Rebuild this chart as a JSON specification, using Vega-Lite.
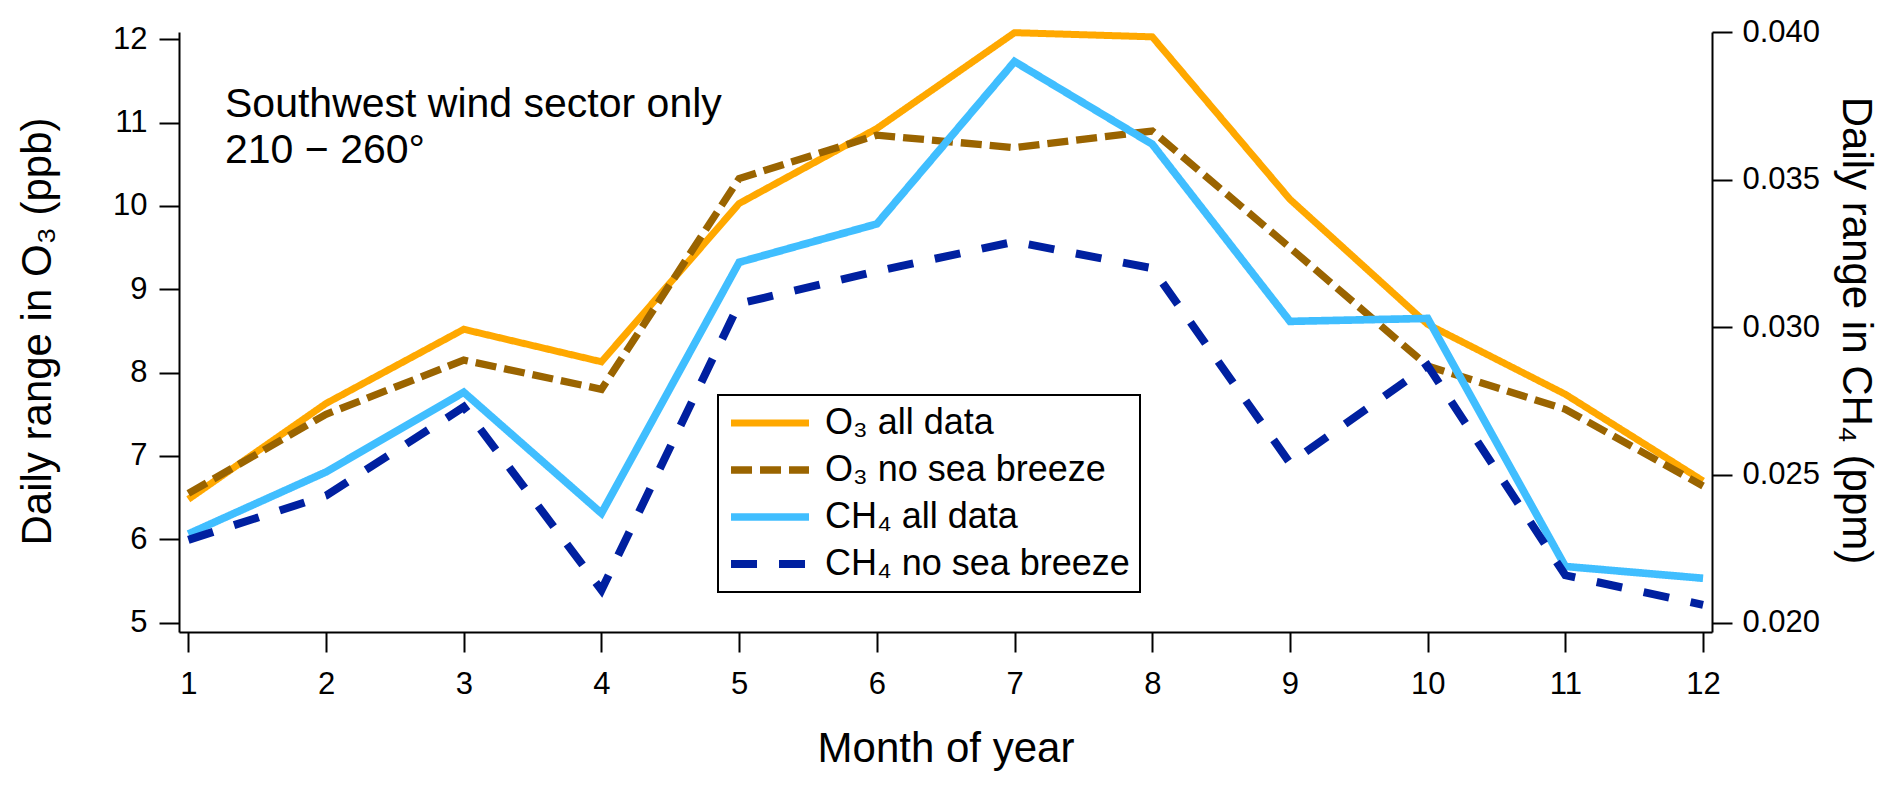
{
  "$schema": "https://vega.github.io/schema/vega-lite/v6.json",
  "width": 1533,
  "height": 600,
  "autosize": {"type": "none"},
  "padding": {"left": 179, "top": 32, "right": 180, "bottom": 157},
  "background": "white",
  "config": {
    "view": {"stroke": null},
    "font": "Liberation Sans",
    "axis": {
      "domainColor": "black",
      "domainWidth": 2,
      "tickColor": "black",
      "tickWidth": 2,
      "tickSize": 20,
      "labelColor": "black",
      "labelFont": "Liberation Sans",
      "labelFontSize": 31,
      "titleColor": "black",
      "titleFont": "Liberation Sans",
      "titleFontSize": 42,
      "titleFontWeight": "normal",
      "grid": false
    }
  },
  "title": {
    "text": ["Southwest wind sector only", "210 − 260°"],
    "anchor": "start",
    "frame": "group",
    "orient": "top",
    "offset": 0,
    "dx": 46,
    "dy": 156,
    "baseline": "top",
    "lineHeight": 46,
    "font": "Liberation Sans",
    "fontSize": 41,
    "fontWeight": "normal",
    "color": "black"
  },
  "datasets": {
    "o3": [
      {"month": 1, "series": "O₃ all data", "value": 6.48},
      {"month": 2, "series": "O₃ all data", "value": 7.63},
      {"month": 3, "series": "O₃ all data", "value": 8.52},
      {"month": 4, "series": "O₃ all data", "value": 8.13},
      {"month": 5, "series": "O₃ all data", "value": 10.03},
      {"month": 6, "series": "O₃ all data", "value": 10.93},
      {"month": 7, "series": "O₃ all data", "value": 12.08},
      {"month": 8, "series": "O₃ all data", "value": 12.03},
      {"month": 9, "series": "O₃ all data", "value": 10.08},
      {"month": 10, "series": "O₃ all data", "value": 8.58},
      {"month": 11, "series": "O₃ all data", "value": 7.74},
      {"month": 12, "series": "O₃ all data", "value": 6.70},
      {"month": 1, "series": "O₃ no sea breeze", "value": 6.55},
      {"month": 2, "series": "O₃ no sea breeze", "value": 7.50},
      {"month": 3, "series": "O₃ no sea breeze", "value": 8.15},
      {"month": 4, "series": "O₃ no sea breeze", "value": 7.80},
      {"month": 5, "series": "O₃ no sea breeze", "value": 10.33},
      {"month": 6, "series": "O₃ no sea breeze", "value": 10.85},
      {"month": 7, "series": "O₃ no sea breeze", "value": 10.70},
      {"month": 8, "series": "O₃ no sea breeze", "value": 10.90},
      {"month": 9, "series": "O₃ no sea breeze", "value": 9.50},
      {"month": 10, "series": "O₃ no sea breeze", "value": 8.08},
      {"month": 11, "series": "O₃ no sea breeze", "value": 7.56},
      {"month": 12, "series": "O₃ no sea breeze", "value": 6.64}
    ],
    "ch4": [
      {"month": 1, "series": "CH₄ all data", "value": 0.0230},
      {"month": 2, "series": "CH₄ all data", "value": 0.0251},
      {"month": 3, "series": "CH₄ all data", "value": 0.0278},
      {"month": 4, "series": "CH₄ all data", "value": 0.0237},
      {"month": 5, "series": "CH₄ all data", "value": 0.0322},
      {"month": 6, "series": "CH₄ all data", "value": 0.0335},
      {"month": 7, "series": "CH₄ all data", "value": 0.0390},
      {"month": 8, "series": "CH₄ all data", "value": 0.0362},
      {"month": 9, "series": "CH₄ all data", "value": 0.0302},
      {"month": 10, "series": "CH₄ all data", "value": 0.0303},
      {"month": 11, "series": "CH₄ all data", "value": 0.0219},
      {"month": 12, "series": "CH₄ all data", "value": 0.0215},
      {"month": 1, "series": "CH₄ no sea breeze", "value": 0.0228},
      {"month": 2, "series": "CH₄ no sea breeze", "value": 0.0243},
      {"month": 3, "series": "CH₄ no sea breeze", "value": 0.0273},
      {"month": 4, "series": "CH₄ no sea breeze", "value": 0.0211},
      {"month": 5, "series": "CH₄ no sea breeze", "value": 0.0308},
      {"month": 6, "series": "CH₄ no sea breeze", "value": 0.0319},
      {"month": 7, "series": "CH₄ no sea breeze", "value": 0.0329},
      {"month": 8, "series": "CH₄ no sea breeze", "value": 0.0320},
      {"month": 9, "series": "CH₄ no sea breeze", "value": 0.0254},
      {"month": 10, "series": "CH₄ no sea breeze", "value": 0.0287},
      {"month": 11, "series": "CH₄ no sea breeze", "value": 0.0216},
      {"month": 12, "series": "CH₄ no sea breeze", "value": 0.0206}
    ]
  },
  "encoding": {
    "x": {
      "field": "month",
      "type": "quantitative",
      "scale": {"domain": [0.932, 12.065], "nice": false, "zero": false},
      "axis": {
        "values": [1, 2, 3, 4, 5, 6, 7, 8, 9, 10, 11, 12],
        "format": "d",
        "labelPadding": 17,
        "title": "Month of year",
        "titleBaseline": "alphabetic",
        "titleY": 129
      }
    },
    "color": {
      "field": "series",
      "type": "nominal",
      "scale": {
        "domain": ["O₃ all data", "O₃ no sea breeze", "CH₄ all data", "CH₄ no sea breeze"],
        "range": ["#FFA800", "#9A6400", "#40BEFF", "#0020A0"]
      },
      "legend": {
        "title": null,
        "orient": "none",
        "legendX": 539,
        "legendY": 363,
        "padding": 10,
        "fillColor": "white",
        "strokeColor": "black",
        "labelFont": "Liberation Sans",
        "labelFontSize": 36,
        "labelColor": "black",
        "labelOffset": 37,
        "labelLimit": 400,
        "symbolType": "M-4,0L4,0",
        "symbolSize": 380,
        "symbolOffset": 24,
        "rowPadding": 11,
        "encode": {"legend": {"update": {"strokeWidth": {"value": 2}}}}
      }
    },
    "strokeDash": {
      "field": "series",
      "type": "nominal",
      "scale": {
        "domain": ["O₃ all data", "O₃ no sea breeze", "CH₄ all data", "CH₄ no sea breeze"],
        "range": [[1, 0], [21, 8], [1, 0], [26, 22]]
      }
    },
    "strokeWidth": {
      "field": "series",
      "type": "nominal",
      "scale": {
        "domain": ["O₃ all data", "O₃ no sea breeze", "CH₄ all data", "CH₄ no sea breeze"],
        "range": [7, 8, 10.5, 8]
      }
    }
  },
  "layer": [
    {
      "data": {"name": "o3"},
      "mark": {"type": "line"},
      "encoding": {
        "y": {
          "field": "value",
          "type": "quantitative",
          "scale": {"domain": [4.887, 12.088], "nice": false, "zero": false},
          "axis": {
            "orient": "left",
            "values": [5, 6, 7, 8, 9, 10, 11, 12],
            "format": "d",
            "labelPadding": 12,
            "title": "Daily range in O₃ (ppb)",
            "titleAngle": 270,
            "titleBaseline": "bottom",
            "titleX": -120,
            "titleY": 299
          }
        }
      }
    },
    {
      "data": {"name": "ch4"},
      "mark": {"type": "line"},
      "encoding": {
        "y": {
          "field": "value",
          "type": "quantitative",
          "scale": {"domain": [0.01968, 0.04], "nice": false, "zero": false},
          "axis": {
            "orient": "right",
            "values": [0.02, 0.025, 0.03, 0.035, 0.04],
            "format": ".3f",
            "labelPadding": 10,
            "title": "Daily range in CH₄ (ppm)",
            "titleAngle": 90,
            "titleBaseline": "bottom",
            "titleX": 121,
            "titleY": 298
          }
        }
      }
    }
  ],
  "resolve": {"scale": {"y": "independent"}}
}
